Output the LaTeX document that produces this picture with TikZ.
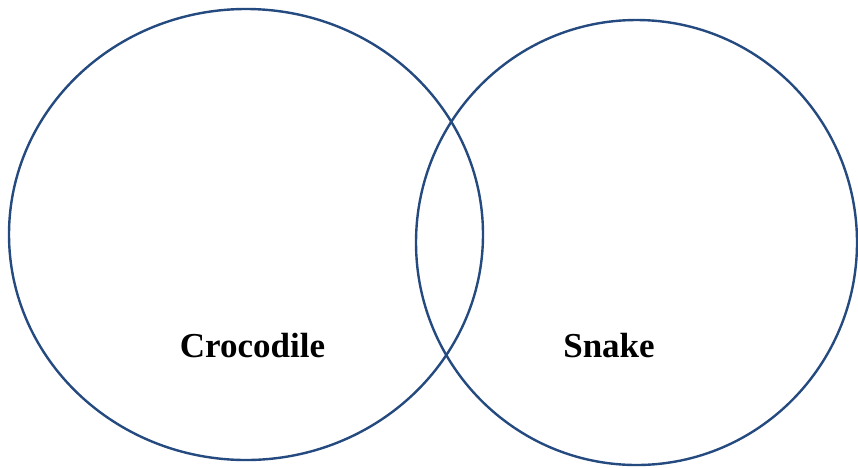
\documentclass[tikz,border=0pt]{standalone}
\usepackage{fontspec}
\setmainfont{Liberation Serif}
\usetikzlibrary{shapes.geometric}
\definecolor{ringblue}{RGB}{36,74,128}

\begin{document}
\begin{tikzpicture}[
      x=1pt, y=-1pt,
      ring/.style ={ellipse, draw=ringblue, line width=2.4pt, inner sep=0pt},
      lbl/.style  ={font=\fontsize{35}{41}\selectfont\bfseries, text=black,
                    anchor=base, inner sep=0pt}
    ]
    \useasboundingbox (0,0) rectangle (858,467);
    % --- the two sets ---
    \node[ring, minimum width=474pt, minimum height=451pt] (croc) at (246,234.5) {};
    \node[ring, minimum width=441pt, minimum height=445pt] (snake) at (636.5,242.5) {};
    % --- labels ---
    \node[lbl] (crocname)  at (252.5,357.5) {Crocodile};
    \node[lbl] (snakename) at (609,357.5) {Snake};
  \end{tikzpicture}
\end{document}
